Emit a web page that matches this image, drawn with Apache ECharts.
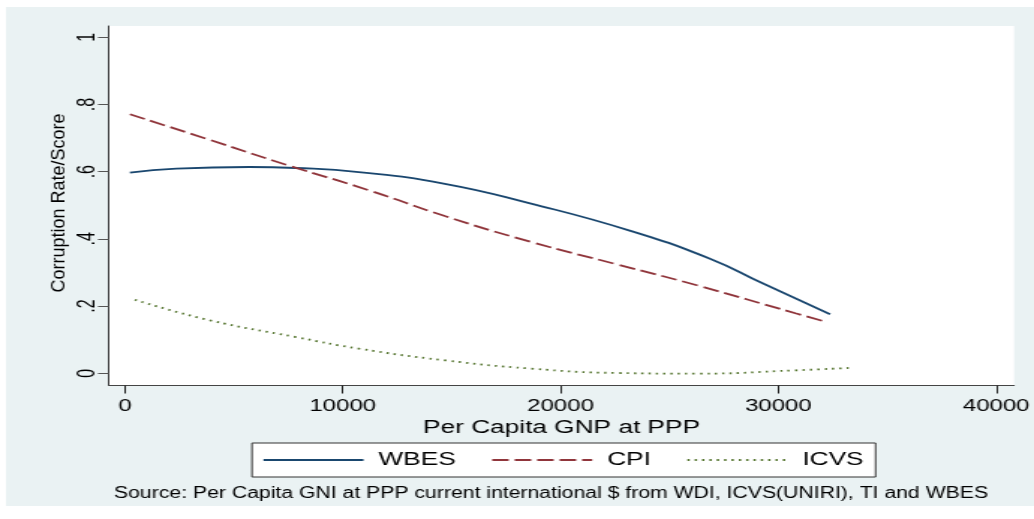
<!DOCTYPE html>
<html>
<head>
<meta charset="utf-8">
<script src="https://cdn.jsdelivr.net/npm/echarts@6/dist/echarts.min.js"></script>
<style>
html,body{margin:0;padding:0;background:#fff;}
#wrap{width:1034px;height:519px;overflow:hidden;position:relative;}
#chart{position:absolute;left:0;top:0;height:519px;transform-origin:0 0;}
</style>
</head>
<body>
<div id="wrap"><div id="chart"></div></div>
<script>
// ---- data ----
const wbesX = [228, 2360, 5708, 7840, 10731, 14688, 18645, 23210, 26860, 29300, 32374];
const wbesY = [0.597, 0.609, 0.614, 0.611, 0.599, 0.564, 0.505, 0.424, 0.341, 0.267, 0.176];
const cpiX = [228, 3881, 7534, 11187, 14688, 18645, 22603, 26256, 30822, 32190];
const cpiY = [0.771, 0.695, 0.618, 0.545, 0.468, 0.391, 0.324, 0.262, 0.178, 0.153];
const icvsX = [457, 3881, 7840, 10731, 14688, 18645, 22603, 26256, 30822, 33230];
const icvsY = [0.219, 0.158, 0.108, 0.0735, 0.0387, 0.014, 0.001, -0.001, 0.009, 0.016];
const xTicks = [0, 10000, 20000, 30000, 40000];
const yTicks = [0, 0.2, 0.4, 0.6, 0.8, 1];
const seriesNames = ['WBES', 'CPI', 'ICVS'];
const xTitle = 'Per Capita GNP at PPP';
const yTitle = 'Corruption Rate/Score';
const sourceNote = 'Source: Per Capita GNI at PPP current international $ from WDI, ICVS(UNIRI), TI and WBES';

// horizontal stretch of the reference rendering
const W = 690;
const S = 1034 / W;
const el = document.getElementById('chart');
el.style.width = W + 'px';
el.style.transform = 'scaleX(' + S + ')';

const FF = '"Liberation Sans", Arial, sans-serif';
const pairs = (xs, ys) => xs.map((x, i) => [x, ys[i]]);
const yFmt = v => (v === 0 ? '0' : v === 1 ? '1' : String(v).replace(/^0\./, '.'));
const xFmt = v => String(Math.round(v));

const chart = echarts.init(el, null, {renderer: 'canvas'});
chart.setOption({
  animation: false,
  backgroundColor: '#ffffff',
  textStyle: {fontFamily: FF},
  graphic: [
    {type: 'rect', z: -10, silent: true, shape: {x: 6 / S, y: 7, width: (1034 - 6) / S, height: 499}, style: {fill: '#eaf2f3'}},
    {type: 'text', z: 10, x: 59 / S, y: 203, rotation: Math.PI / 2, scaleY: 1 / S,
      style: {text: yTitle, fontSize: 18, fontFamily: FF, fill: '#000', align: 'center', verticalAlign: 'middle'}},
    {type: 'text', z: 10, x: 114 / S, y: 494, scaleX: 0.884,
      style: {text: sourceNote, fontSize: 16, fontFamily: FF, fill: '#000', align: 'left', verticalAlign: 'middle'}}
  ],
  grid: {left: 109 / S, right: 16 / S, top: 26, bottom: 133.5, show: true, backgroundColor: '#ffffff', borderWidth: 0, containLabel: false},
  legend: {
    data: seriesNames,
    left: 252 / S, top: 443,
    orient: 'horizontal',
    padding: [8, 8, 8, 10 / S],
    itemWidth: 100 / S, itemHeight: 14, itemGap: 35 / S,
    itemStyle: {opacity: 0},
    backgroundColor: '#ffffff', borderColor: '#333', borderWidth: 1, borderRadius: 0,
    textStyle: {fontSize: 17.5, color: '#000', fontFamily: FF, padding: [0, 0, 0, 5]}
  },
  xAxis: {
    type: 'value', min: -731, max: 40823,
    name: xTitle, nameLocation: 'middle', nameGap: 30,
    nameTextStyle: {fontSize: 17.5, color: '#000', fontFamily: FF},
    axisLine: {show: true, onZero: false, lineStyle: {color: '#444', width: 1}},
    axisTick: {show: true, customValues: xTicks, length: 8, lineStyle: {color: '#222', width: 1}},
    axisLabel: {show: true, customValues: xTicks, margin: 13, fontSize: 16, color: '#000', fontFamily: FF, formatter: xFmt},
    splitLine: {show: false}
  },
  yAxis: {
    type: 'value', min: -0.0363, max: 1.0336,
    axisLine: {show: true, onZero: false, lineStyle: {color: '#333', width: 1}},
    axisTick: {show: true, customValues: yTicks, length: 11 / S, lineStyle: {color: '#555', width: 1}},
    axisLabel: {show: true, customValues: yTicks, rotate: 90, margin: 6, fontSize: 16, color: '#000', fontFamily: FF, formatter: yFmt},
    splitLine: {show: false}
  },
  series: [
    {name: 'WBES', type: 'line', data: pairs(wbesX, wbesY), symbol: 'none', smooth: true,
      lineStyle: {color: '#1a476f', width: 1.8}, itemStyle: {color: '#1a476f'}},
    {name: 'CPI', type: 'line', data: pairs(cpiX, cpiY), symbol: 'none', smooth: true,
      lineStyle: {color: '#90353b', width: 1.8, type: [11, 4]}, itemStyle: {color: '#90353b'}},
    {name: 'ICVS', type: 'line', data: pairs(icvsX, icvsY), symbol: 'none', smooth: true,
      lineStyle: {color: '#55752f', width: 1.8, type: [1.5, 3.4]}, itemStyle: {color: '#55752f'}}
  ]
});
</script>
</body>
</html>
